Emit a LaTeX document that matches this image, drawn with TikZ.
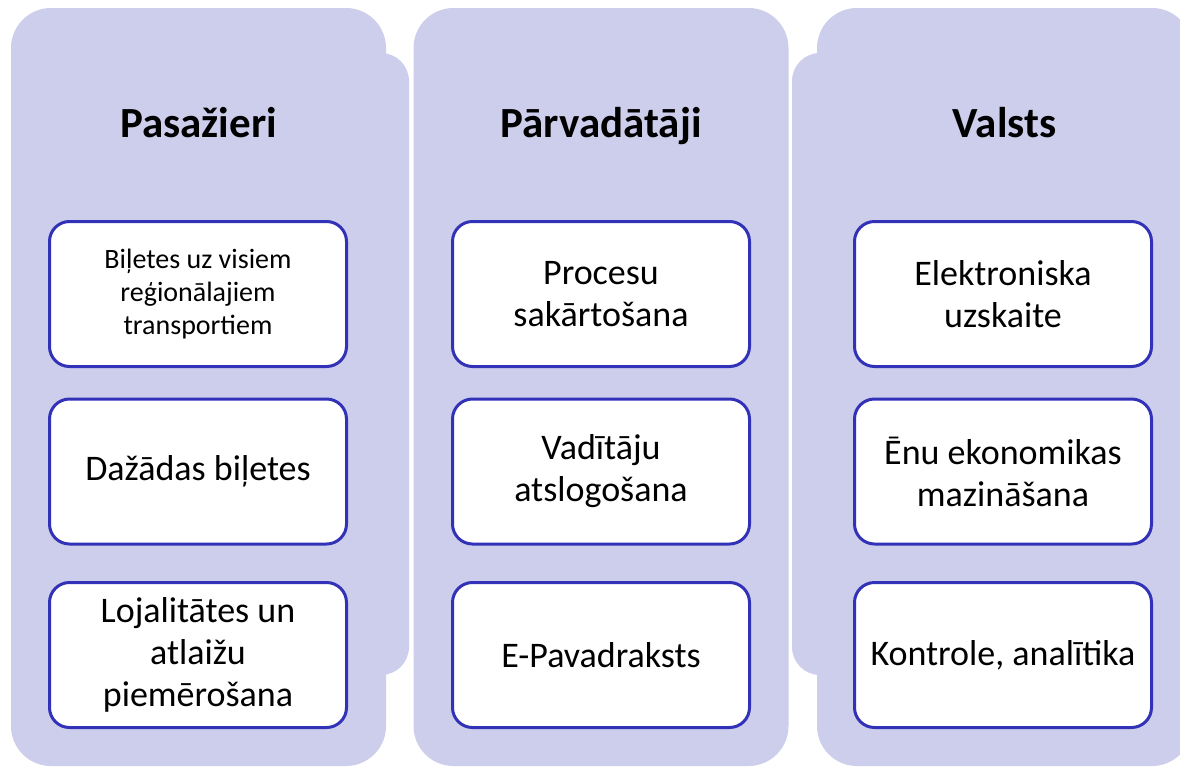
\documentclass[tikz,border=0pt]{standalone}
\usepackage{fontspec}
\setmainfont{Carlito}
\definecolor{panelfill}{RGB}{205,205,236}
\definecolor{boxline}{RGB}{50,50,185}
\tikzset{
  panel/.style={fill=panelfill, draw=none, rounded corners=40pt, inner sep=0pt},
  tabpanel/.style={fill=panelfill, draw=none, rounded corners=28pt, inner sep=0pt},
  heading/.style={font=\bfseries\fontsize{43}{52}\selectfont, anchor=base},
  itembox/.style={draw=boxline, line width=3pt, fill=white, rounded corners=20pt,
    minimum width=297pt, minimum height=145pt, align=center, inner sep=2pt,
    font=\fontsize{36}{42}\selectfont},
  smallbox/.style={itembox, font=\fontsize{28}{33}\selectfont}
}

\begin{document}
\begin{tikzpicture}[x=1pt, y=-1pt]
                                \useasboundingbox (0,0) rectangle (1180,766);
                                \clip (0,0) rectangle (1180,766);

                                % panels
                                \node[tabpanel, minimum width=398pt, minimum height=622pt] (pasTab) at (210, 364) {};
                                \node[panel, minimum width=375pt, minimum height=758pt] (pasPanel) at (198.5, 387) {};
                                \node[panel, minimum width=375pt, minimum height=758pt] (parPanel) at (601, 387) {};
                                \node[tabpanel, minimum width=398pt, minimum height=622pt] (valTab) at (991, 364) {};
                                \node[panel, minimum width=375pt, minimum height=758pt] (valPanel) at (1004.5, 387) {};

                                % headings
                                \node[heading] (pasTitle) at (198.5, 137) {Pasažieri};
                                \node[heading] (parTitle) at (601, 137) {Pārvadātāji};
                                \node[heading] (valTitle) at (1004.5, 137) {Valsts};

                                % Pasažieri
                                \node[smallbox] (pasA) at (198, 294) {Biļetes uz visiem\\reģionālajiem\\transportiem};
                                \node[itembox] (pasB) at (198, 471.5) {Dažādas biļetes};
                                \node[itembox] (pasC) at (198, 655) {Lojalitātes un\\atlaižu\\piemērošana};

                                % Pārvadātāji
                                \node[itembox] (parA) at (601, 294) {Procesu\\sakārtošana};
                                \node[itembox] (parB) at (601, 471.5) {Vadītāju\\atslogošana};
                                \node[itembox] (parC) at (601, 655) {E-Pavadraksts};

                                % Valsts
                                \node[itembox] (valA) at (1003, 294) {Elektroniska\\uzskaite};
                                \node[itembox] (valB) at (1003, 471.5) {Ēnu ekonomikas\\mazināšana};
                                \node[itembox] (valC) at (1003, 655) {Kontrole, analītika};
                            \end{tikzpicture}
\end{document}
